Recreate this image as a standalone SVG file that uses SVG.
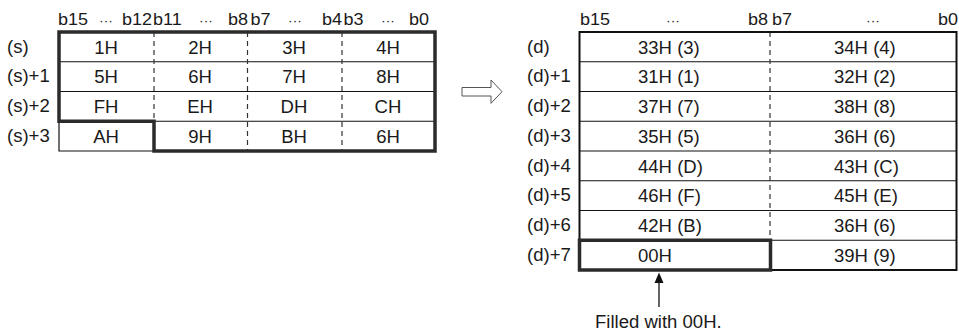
<svg xmlns="http://www.w3.org/2000/svg" width="959" height="334" viewBox="0 0 959 334">
<style>
text{font-family:"Liberation Sans",Arial,sans-serif;fill:#1a1a1a}
.c{font-size:17.5px;text-anchor:middle}
.l{font-size:17.5px}
.h{font-size:17px}
.he{font-size:17px;text-anchor:end}
.dots{font-size:13px;text-anchor:middle}
.thin{stroke:#111;stroke-width:1.2;fill:none}
.border{stroke:#111;stroke-width:2;fill:none}
.dash{stroke:#333;stroke-width:1.2;stroke-dasharray:5 4;fill:none}
.thick{stroke:#2b2b2b;stroke-width:3.5;fill:none}
</style>
<rect width="959" height="334" fill="#fff"/>

<g id="src-table">
  <g id="src-header">
    <text class="h" transform="translate(58,25) scale(1.06,1)">b15</text>
    <text class="dots" transform="translate(106,25) scale(1.06,1)">···</text>
    <text class="he" transform="translate(152,25) scale(1.06,1)">b12</text>
    <text class="h" transform="translate(153,25) scale(1.06,1)">b11</text>
    <text class="dots" transform="translate(206,25) scale(1.06,1)">···</text>
    <text class="he" transform="translate(248,25) scale(1.06,1)">b8</text>
    <text class="h" transform="translate(250.5,25) scale(1.06,1)">b7</text>
    <text class="dots" transform="translate(295,25) scale(1.06,1)">···</text>
    <text class="he" transform="translate(342,25) scale(1.06,1)">b4</text>
    <text class="h" transform="translate(343.5,25) scale(1.06,1)">b3</text>
    <text class="dots" transform="translate(388,25) scale(1.06,1)">···</text>
    <text class="he" transform="translate(429,25) scale(1.06,1)">b0</text>
  </g>
  <path class="thin" d="M59,61.75H435M59,91.5H435M154,121.25H435M59,121.25V151H154"/>
  <path class="dash" d="M154,32V121.25M247.5,32V151M342,32V151"/>
  <path class="thick" d="M59,32H435V151H154V121.25H59Z"/>
  <g id="src-labels">
    <text class="l" transform="translate(7,52.5) scale(1.06,1)">(s)</text>
    <text class="l" transform="translate(7,82.25) scale(1.06,1)">(s)+1</text>
    <text class="l" transform="translate(7,112) scale(1.06,1)">(s)+2</text>
    <text class="l" transform="translate(7,141.75) scale(1.06,1)">(s)+3</text>
  </g>
  <g id="src-cells">
    <text class="c" transform="translate(106,53.5) scale(1.06,1)">1H</text>
    <text class="c" transform="translate(200,53.5) scale(1.06,1)">2H</text>
    <text class="c" transform="translate(294,53.5) scale(1.06,1)">3H</text>
    <text class="c" transform="translate(388,53.5) scale(1.06,1)">4H</text>
    <text class="c" transform="translate(106,83.25) scale(1.06,1)">5H</text>
    <text class="c" transform="translate(200,83.25) scale(1.06,1)">6H</text>
    <text class="c" transform="translate(294,83.25) scale(1.06,1)">7H</text>
    <text class="c" transform="translate(388,83.25) scale(1.06,1)">8H</text>
    <text class="c" transform="translate(106,113) scale(1.06,1)">FH</text>
    <text class="c" transform="translate(200,113) scale(1.06,1)">EH</text>
    <text class="c" transform="translate(294,113) scale(1.06,1)">DH</text>
    <text class="c" transform="translate(388,113) scale(1.06,1)">CH</text>
    <text class="c" transform="translate(106,142.75) scale(1.06,1)">AH</text>
    <text class="c" transform="translate(200,142.75) scale(1.06,1)">9H</text>
    <text class="c" transform="translate(294,142.75) scale(1.06,1)">BH</text>
    <text class="c" transform="translate(388,142.75) scale(1.06,1)">6H</text>
  </g>
</g>

<g id="dst-table">
  <g id="dst-header">
    <text class="h" transform="translate(580,25) scale(1.06,1)">b15</text>
    <text class="dots" transform="translate(673,25) scale(1.06,1)">···</text>
    <text class="he" transform="translate(768,25) scale(1.06,1)">b8</text>
    <text class="h" transform="translate(772,25) scale(1.06,1)">b7</text>
    <text class="dots" transform="translate(873,25) scale(1.06,1)">···</text>
    <text class="he" transform="translate(958,25) scale(1.06,1)">b0</text>
  </g>
  <path class="thin" d="M579.5,61.75H957M579.5,91.5H957M579.5,121.25H957M579.5,151H957M579.5,180.75H957M579.5,210.5H957M579.5,240.25H957"/>
  <path class="dash" d="M770,32V240.25"/>
  <rect class="border" x="579.5" y="32" width="377" height="238"/>
  <rect class="thick" x="579.5" y="240.25" width="191" height="29.75"/>
  <g id="dst-labels">
    <text class="l" transform="translate(527,52.5) scale(1.06,1)">(d)</text>
    <text class="l" transform="translate(527,82.25) scale(1.06,1)">(d)+1</text>
    <text class="l" transform="translate(527,112) scale(1.06,1)">(d)+2</text>
    <text class="l" transform="translate(527,141.75) scale(1.06,1)">(d)+3</text>
    <text class="l" transform="translate(527,171.5) scale(1.06,1)">(d)+4</text>
    <text class="l" transform="translate(527,201.25) scale(1.06,1)">(d)+5</text>
    <text class="l" transform="translate(527,231) scale(1.06,1)">(d)+6</text>
    <text class="l" transform="translate(527,260.75) scale(1.06,1)">(d)+7</text>
  </g>
  <g id="dst-cells">
    <text class="l" transform="translate(638,53.5) scale(1.06,1)">33H (3)</text>
    <text class="l" transform="translate(834,53.5) scale(1.06,1)">34H (4)</text>
    <text class="l" transform="translate(638,83.25) scale(1.06,1)">31H (1)</text>
    <text class="l" transform="translate(834,83.25) scale(1.06,1)">32H (2)</text>
    <text class="l" transform="translate(638,113) scale(1.06,1)">37H (7)</text>
    <text class="l" transform="translate(834,113) scale(1.06,1)">38H (8)</text>
    <text class="l" transform="translate(638,142.75) scale(1.06,1)">35H (5)</text>
    <text class="l" transform="translate(834,142.75) scale(1.06,1)">36H (6)</text>
    <text class="l" transform="translate(638,172.5) scale(1.06,1)">44H (D)</text>
    <text class="l" transform="translate(834,172.5) scale(1.06,1)">43H (C)</text>
    <text class="l" transform="translate(638,202.25) scale(1.06,1)">46H (F)</text>
    <text class="l" transform="translate(834,202.25) scale(1.06,1)">45H (E)</text>
    <text class="l" transform="translate(638,232) scale(1.06,1)">42H (B)</text>
    <text class="l" transform="translate(834,232) scale(1.06,1)">36H (6)</text>
    <text class="l" transform="translate(638,261.75) scale(1.06,1)">00H</text>
    <text class="l" transform="translate(834,261.75) scale(1.06,1)">39H (9)</text>
  </g>
</g>

<g id="note">
  <text class="l" transform="translate(595,328) scale(1.06,1)">Filled with 00H.</text>
</g>

<g id="connectors">
  <polygon points="462,87.5 491,87.5 491,80 502,91.7 491,103.3 491,96 462,96" fill="#fff" stroke="#555" stroke-width="1"/>
  <line x1="659" y1="307" x2="659" y2="282" stroke="#111" stroke-width="1.3"/>
  <polygon points="659,272.5 654.5,283 663.5,283" fill="#111"/>
</g>
</svg>
